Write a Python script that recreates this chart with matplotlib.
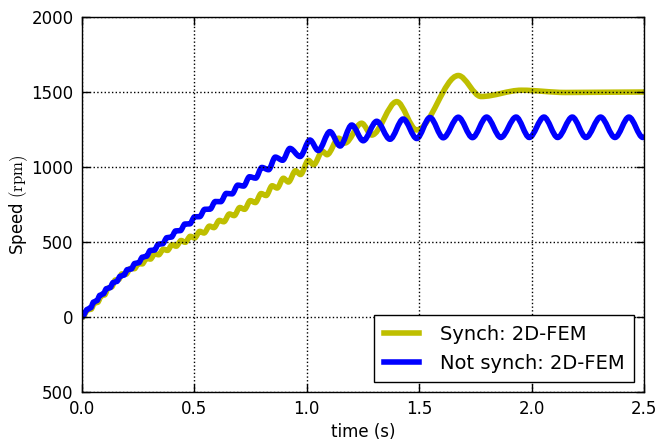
import matplotlib
matplotlib.use('Agg')
import matplotlib.pyplot as plt
from matplotlib.path import Path
from matplotlib.patches import PathPatch
from matplotlib.lines import Line2D

plt.rcParams['mathtext.fontset'] = 'cm'

# values (peaks / troughs of each speed curve)
t_synch = [0.0, 0.027, 0.040, 0.056, 0.0695, 0.086, 0.100, 0.117, 0.1315, 0.149,
           0.163, 0.178, 0.195, 0.216, 0.233, 0.251, 0.268, 0.287, 0.304, 0.324,
           0.341, 0.362, 0.380, 0.401, 0.419, 0.441, 0.459, 0.482, 0.501, 0.524,
           0.543, 0.567, 0.587, 0.611, 0.631, 0.656, 0.677, 0.702, 0.723, 0.749,
           0.771, 0.797, 0.819, 0.846, 0.868, 0.896, 0.918, 0.950, 0.972, 1.007,
           1.030, 1.070, 1.090, 1.142, 1.170, 1.244, 1.289, 1.400, 1.489, 1.674,
           1.775, 1.955, 2.150, 2.5]
v_synch = [-5, 48, 52, 93, 98, 141, 147, 193, 200, 247,
           250, 288, 285, 324, 322, 356, 354, 391, 386, 421,
           415, 452, 444, 482, 472, 510, 498, 538, 527, 571,
           560, 606, 596, 644, 635, 687, 676, 730, 718, 776,
           763, 823, 810, 875, 860, 925, 900, 975, 950, 1045,
           1015, 1105, 1082, 1192, 1160, 1292, 1213, 1436, 1247, 1610,
           1470, 1512, 1497, 1500]

t_not = [0.0, 0.025, 0.0385, 0.052, 0.066, 0.080, 0.0945, 0.109, 0.124, 0.139,
         0.1545, 0.170, 0.186, 0.202, 0.2185, 0.235, 0.252, 0.269, 0.2865, 0.304,
         0.322, 0.340, 0.359, 0.378, 0.3975, 0.417, 0.4375, 0.458, 0.4795, 0.501,
         0.5235, 0.546, 0.5695, 0.593, 0.6175, 0.642, 0.6675, 0.693, 0.719, 0.745,
         0.7725, 0.800, 0.830, 0.860, 0.8925, 0.925, 0.970, 1.014, 1.051, 1.103,
         1.148, 1.200, 1.251, 1.311, 1.370, 1.429, 1.489, 1.548, 1.607, 1.674,
         1.737, 1.800, 1.863, 1.931, 1.990, 2.055, 2.116, 2.181, 2.242, 2.307,
         2.371, 2.433, 2.495, 2.5]
v_not = [0, 52, 62, 100, 109, 145, 154, 189, 195, 230,
         237, 272, 279, 316, 320, 357, 362, 399, 405, 444,
         446, 485, 489, 529, 533, 574, 576, 620, 621, 668,
         669, 718, 719, 770, 769, 824, 821, 879, 873, 935,
         926, 997, 982, 1066, 1045, 1124, 1070, 1180, 1110, 1236,
         1140, 1280, 1175, 1305, 1185, 1320, 1190, 1330, 1195, 1332,
         1196, 1333, 1197, 1333, 1197, 1333, 1197, 1333, 1197, 1333,
         1197, 1333, 1197, 1198]

labels = ['Synch: 2D-FEM', 'Not synch: 2D-FEM']
colors = ['#bfbf00', '#0000ff']
yticks = [-500, 0, 500, 1000, 1500, 2000]
ytick_labels = ['500', '0', '500', '1000', '1500', '2000']
xticks = [0.0, 0.5, 1.0, 1.5, 2.0, 2.5]


def smooth_path(t, v):
    # cubic pieces with flat tangents at each read point (peaks/troughs)
    verts = [(t[0], v[0])]
    codes = [Path.MOVETO]
    for i in range(1, len(t)):
        d = (t[i] - t[i - 1]) / 3
        verts += [(t[i - 1] + d, v[i - 1]), (t[i] - d, v[i]), (t[i], v[i])]
        codes += [Path.CURVE4] * 3
    return Path(verts, codes)


fig = plt.figure(figsize=(6.57, 4.42), dpi=100)
ax = fig.add_axes([0.1248, 0.1131, 0.8554, 0.8484])

for t, v, c in [(t_synch, v_synch, colors[0]), (t_not, v_not, colors[1])]:
    ax.add_patch(PathPatch(smooth_path(t, v), fill=False, edgecolor=c, lw=4,
                           joinstyle='round', capstyle='round'))

ax.set_xlim(0, 2.5)
ax.set_ylim(-500, 2000)
ax.set_xticks(xticks)
ax.set_xticklabels(['%.1f' % x for x in xticks])
ax.set_yticks(yticks)
ax.set_yticklabels(ytick_labels)
ax.tick_params(direction='in', length=6, width=1, top=True, right=True,
               labelsize=12, pad=6)
ax.grid(True, color='k', linestyle=':', linewidth=1)
for s in ax.spines.values():
    s.set_linewidth(1)

ax.set_xlabel('time (s)', fontsize=12, labelpad=3)
ax.set_ylabel(r'Speed $(\mathrm{rpm})$', fontsize=12, labelpad=1)

handles = [Line2D([], [], color=c, lw=4) for c in colors]
leg = ax.legend(handles, labels, loc='lower right', fontsize=14, fancybox=False,
                handlelength=1.8, handletextpad=1.1, borderpad=0.5,
                borderaxespad=0.5, framealpha=1)
leg.get_frame().set_edgecolor('k')
leg.get_frame().set_linewidth(1)

fig.savefig('out.png', dpi=100, facecolor='white')
